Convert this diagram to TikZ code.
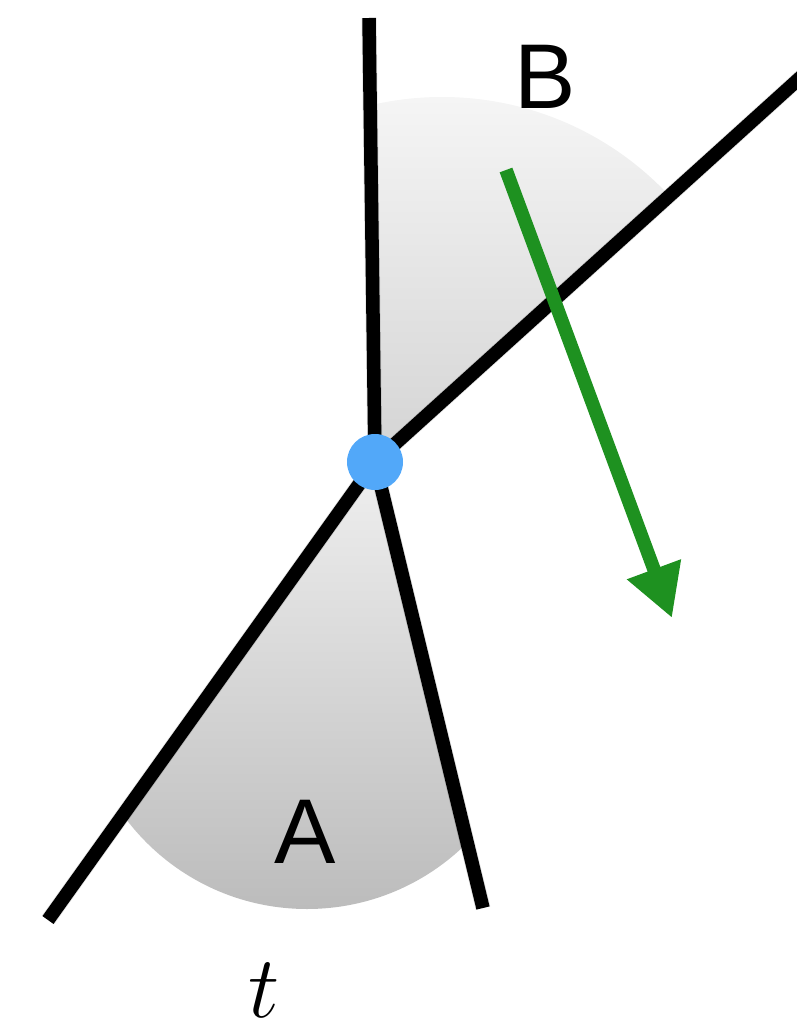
\RequirePackage{fix-cm}
\documentclass[tikz,border=0pt]{standalone}
\usepackage{fontspec}
\newfontfamily\labfont{Liberation Sans}
\usetikzlibrary{arrows.meta}
\definecolor{dotblue}{RGB}{82,168,249}
\definecolor{arrgreen}{RGB}{30,145,32}
\begin{document}
\begin{tikzpicture}[x=1pt,y=-1pt,
  ray/.style={line width=13.5pt, black},
  shadowray/.style={line width=15pt, black, opacity=0.12},
  lab/.style={font=\labfont\fontsize{92}{92}\selectfont, inner sep=0pt},
  dot/.style={circle, fill=dotblue, minimum size=56pt, inner sep=0pt},
  garrow/.style={line width=13.5pt, arrgreen, -{Triangle[width=54pt,length=52pt]}}]
\useasboundingbox (0,0) rectangle (796,1027);
\coordinate (up) at (369,18);
\coordinate (ur) at (802,76);
\coordinate (ll) at (48,920);
\coordinate (lr) at (483,908);
\coordinate (O) at (375,462);
% wedge B
\begin{scope}
\clip (O) -- (366,-200) -- (1000,-200) -- (1000,-105) -- cycle;
\shade[top color={rgb,255:red,245;green,245;blue,245}, bottom color={rgb,255:red,188;green,188;blue,188}] (442,408) circle[radius=311pt];
\end{scope}
% wedge A
\begin{scope}
\clip (O) -- (-152,1200) -- (554,1200) -- cycle;
\shade[top color={rgb,255:red,240;green,240;blue,240}, bottom color={rgb,255:red,188;green,188;blue,188}] (307,682) circle[radius=227pt];
\end{scope}
% shadows
\begin{scope}[shift={(3,4)}]
\draw[shadowray] (up) -- (O) -- (lr);
\draw[shadowray] (ll) -- (O) -- (ur);
\end{scope}
% rays
\draw[ray] (up) -- (O);
\draw[ray] (O) -- (ur);
\draw[ray] (O) -- (ll);
\draw[ray] (O) -- (lr);
% green arrow
\coordinate (gs) at (506,170);
\coordinate (gt) at (672,618);
\draw[garrow] (gs) -- (gt);
% point
\node[dot] (c) at (O) {};
% labels
\node[lab] (B) at (545,77) {B};
\node[lab] (A) at (305,832) {A};
\node[inner sep=0pt, font=\fontsize{88}{88}\selectfont] (t) at (264,990) {$t$};
\end{tikzpicture}
\end{document}
